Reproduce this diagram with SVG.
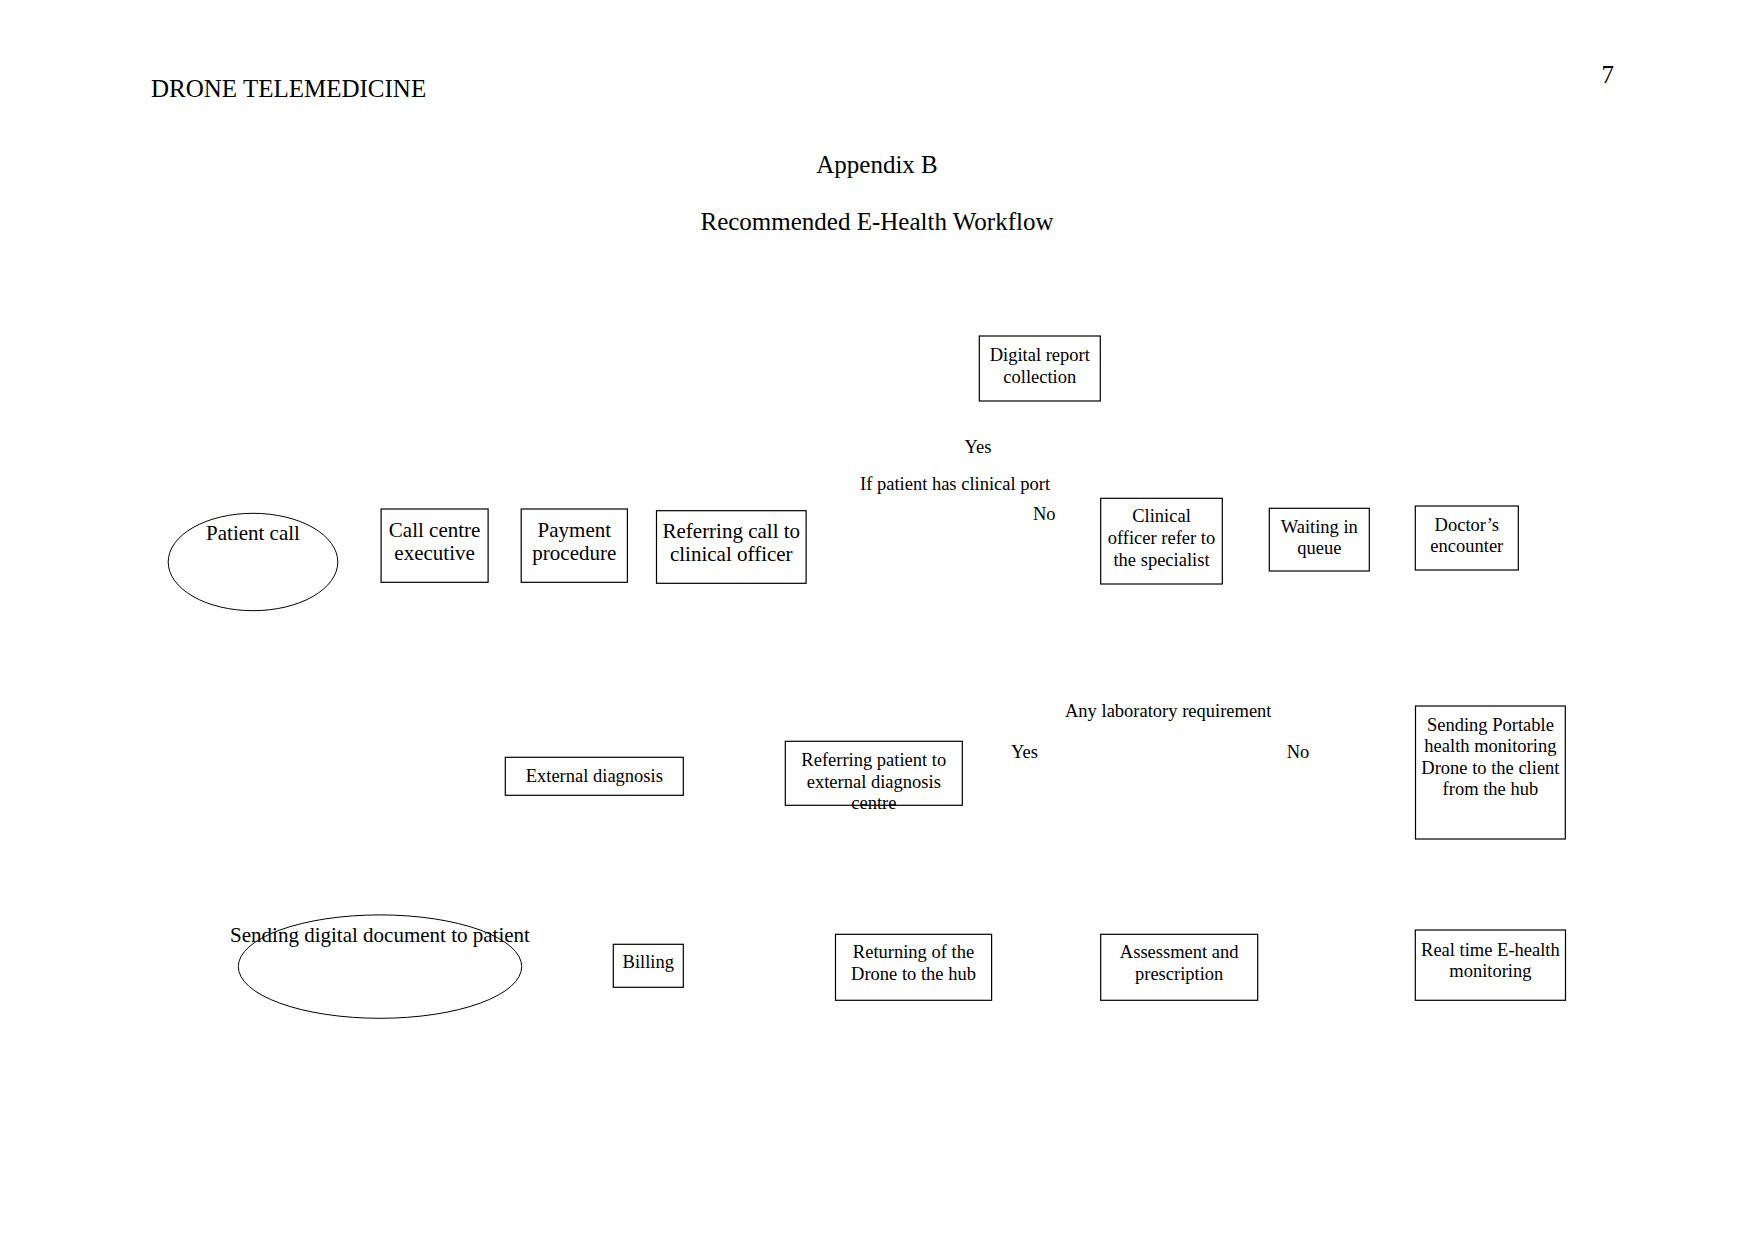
<svg xmlns="http://www.w3.org/2000/svg" width="1754" height="1241" viewBox="0 0 1754 1241">
<style>
text{font-family:"Liberation Serif","Times New Roman",serif;fill:#000}
.hd{font-size:25px}
.big{font-size:21px;text-anchor:middle}
.sm{font-size:18.5px;text-anchor:middle}
.lbl{font-size:18.5px}
.box{fill:#fff;stroke:#000;stroke-width:1.2}
.ell{fill:none;stroke:#000;stroke-width:1}
</style>
<rect width="1754" height="1241" fill="#fff"/>
<g id="header">
<text class="hd" x="151" y="97">DRONE TELEMEDICINE</text>
<text class="hd" x="1601.5" y="83">7</text>
<text class="hd" x="877" y="173" text-anchor="middle">Appendix B</text>
<text class="hd" x="877" y="230" text-anchor="middle">Recommended E-Health Workflow</text>
</g>
<g id="connectors"></g>
<g id="patient-call">
<ellipse class="ell" cx="253" cy="562" rx="84.8" ry="48.7"/>
<text class="big" x="253" y="540">Patient call</text>
</g>
<g id="call-centre">
<rect class="box" x="381.1" y="509" width="107" height="73.3"/>
<text class="big" x="434.6" y="536.7">Call centre</text>
<text class="big" x="434.6" y="560">executive</text>
</g>
<g id="payment">
<rect class="box" x="521.2" y="509" width="106.2" height="73.3"/>
<text class="big" x="574.3" y="536.7">Payment</text>
<text class="big" x="574.3" y="560">procedure</text>
</g>
<g id="referring-call">
<rect class="box" x="656.5" y="510.7" width="149.6" height="72.6"/>
<text class="big" x="731.3" y="537.7">Referring call to</text>
<text class="big" x="731.3" y="561">clinical officer</text>
</g>
<g id="digital-report">
<rect class="box" x="979.3" y="336" width="121" height="65"/>
<text class="sm" x="1039.8" y="360.7">Digital report</text>
<text class="sm" x="1039.8" y="382.5">collection</text>
</g>
<g id="clinical-officer">
<rect class="box" x="1100.7" y="498.3" width="121.6" height="85.7"/>
<text class="sm" x="1161.5" y="522.3">Clinical</text>
<text class="sm" x="1161.5" y="544">officer refer to</text>
<text class="sm" x="1161.5" y="565.7">the specialist</text>
</g>
<g id="waiting">
<rect class="box" x="1269.3" y="508.3" width="100" height="62.7"/>
<text class="sm" x="1319.3" y="532.7">Waiting in</text>
<text class="sm" x="1319.3" y="554">queue</text>
</g>
<g id="doctor">
<rect class="box" x="1415.3" y="506" width="103" height="64"/>
<text class="sm" x="1466.8" y="530.7">Doctor’s</text>
<text class="sm" x="1466.8" y="552.3">encounter</text>
</g>
<g id="external-diagnosis">
<rect class="box" x="505.3" y="757.3" width="178" height="38"/>
<text class="sm" x="594.3" y="781.7">External diagnosis</text>
</g>
<g id="referring-patient">
<rect class="box" x="785.3" y="741.3" width="177" height="64"/>
<text class="sm" x="873.8" y="766">Referring patient to</text>
<text class="sm" x="873.8" y="787.5">external diagnosis</text>
<text class="sm" x="873.8" y="808.8">centre</text>
</g>
<g id="sending-drone">
<rect class="box" x="1415.5" y="706" width="149.8" height="133"/>
<text class="sm" x="1490.4" y="730.5">Sending Portable</text>
<text class="sm" x="1490.4" y="752">health monitoring</text>
<text class="sm" x="1490.4" y="773.5">Drone to the client</text>
<text class="sm" x="1490.4" y="795">from the hub</text>
</g>
<g id="sending-document">
<ellipse class="ell" cx="380" cy="966.6" rx="141.7" ry="51.7"/>
<text class="big" x="380" y="941.7">Sending digital document to patient</text>
</g>
<g id="billing">
<rect class="box" x="613.3" y="944.3" width="70" height="43"/>
<text class="sm" x="648.3" y="968.3">Billing</text>
</g>
<g id="returning">
<rect class="box" x="835.5" y="934.3" width="156.1" height="66"/>
<text class="sm" x="913.5" y="958.3">Returning of the</text>
<text class="sm" x="913.5" y="980">Drone to the hub</text>
</g>
<g id="assessment">
<rect class="box" x="1100.7" y="934.3" width="157" height="66"/>
<text class="sm" x="1179.2" y="958.3">Assessment and</text>
<text class="sm" x="1179.2" y="980">prescription</text>
</g>
<g id="real-time">
<rect class="box" x="1415.3" y="930" width="150.2" height="70.3"/>
<text class="sm" x="1490.4" y="956">Real time E-health</text>
<text class="sm" x="1490.4" y="977.3">monitoring</text>
</g>
<g id="labels">
<text class="lbl" x="978" y="452.7" text-anchor="middle">Yes</text>
<text class="lbl" x="860" y="490">If patient has clinical port</text>
<text class="lbl" x="1033" y="520">No</text>
<text class="lbl" x="1065" y="716.7">Any laboratory requirement</text>
<text class="lbl" x="1011" y="757.7">Yes</text>
<text class="lbl" x="1286.7" y="757.7">No</text>
</g>
</svg>
